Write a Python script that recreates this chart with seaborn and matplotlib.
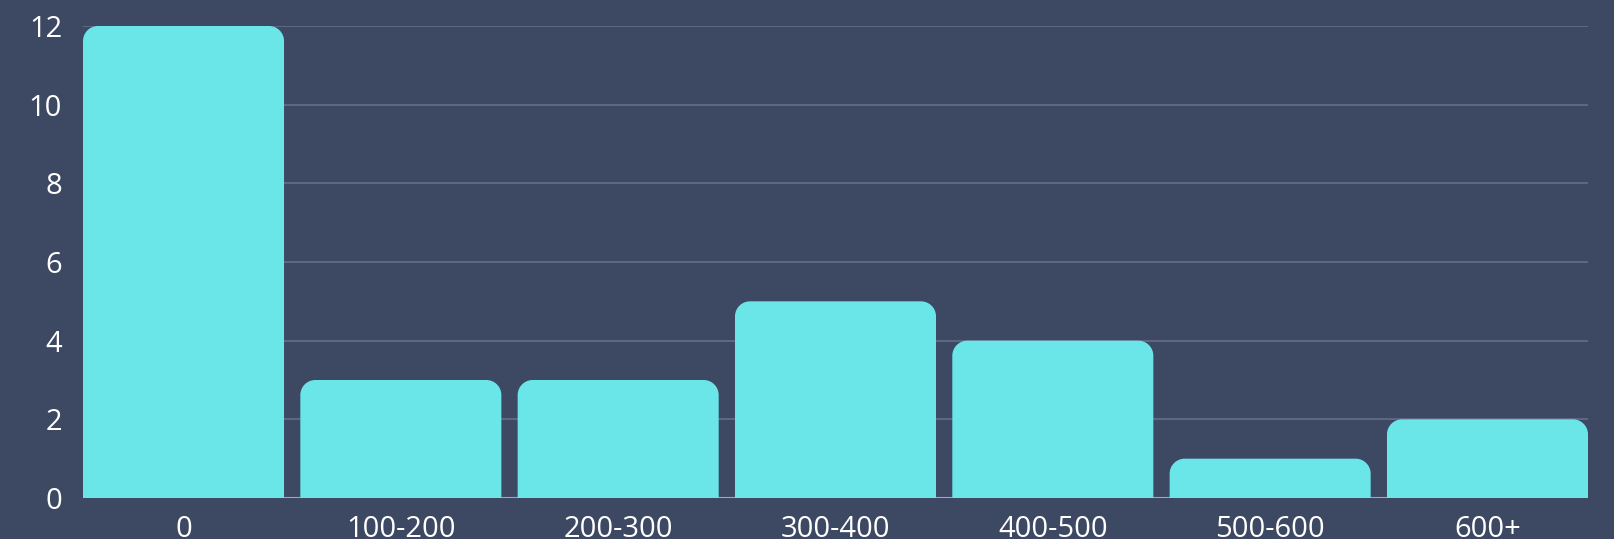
import matplotlib
matplotlib.use("Agg")
import matplotlib.pyplot as plt
import seaborn as sns
import pandas as pd
from matplotlib.path import Path
from matplotlib.patches import PathPatch

categories = ["0", "100-200", "200-300", "300-400", "400-500", "500-600", "600+"]
counts = [12, 3, 3, 5, 4, 1, 2]
yticks = [0, 2, 4, 6, 8, 10, 12]

BG = "#3d4863"
BAR = "#6ae6e9"
GRID = "#646e8a"
BASE = "#a3a8b6"
TEXT = "#ffffff"
BAR_WIDTH = 0.925

sns.set_theme(style="white")
plt.rcParams["font.family"] = ["Open Sans", "DejaVu Sans"]

df = pd.DataFrame({"range": categories, "count": counts})

fig = plt.figure(figsize=(16.14, 5.39), dpi=100, facecolor=BG)
ax = fig.add_axes([83 / 1614, 41 / 539, 1505 / 1614, 472 / 539])
ax.set_facecolor(BG)

sns.barplot(data=df, x="range", y="count", color=BAR, saturation=1,
            width=BAR_WIDTH, ax=ax, zorder=3)

ax.set_ylim(0, 12)
ax.set_xlim(-BAR_WIDTH / 2, len(categories) - 1 + BAR_WIDTH / 2)
ax.set_yticks(yticks)
ax.set_yticklabels([str(t) for t in yticks])
for t in yticks[1:]:
    ax.axhline(t, color=GRID, lw=1.2, zorder=1)
ax.axhline(0, color=BASE, lw=1.5, zorder=2)

for s in ax.spines.values():
    s.set_visible(False)
ax.tick_params(axis="both", length=0, colors=TEXT, labelsize=21)
ax.tick_params(axis="y", pad=15)
ax.tick_params(axis="x", pad=12)
ax.set_xlabel("")
ax.set_ylabel("")

# Replace the square bars with versions whose top corners are rounded
fig.canvas.draw()
radius_px = 15
inv = ax.transData.inverted()
x0d, y0d = inv.transform((0, 0))
x1d, y1d = inv.transform((radius_px, radius_px))
rx, ry = x1d - x0d, y1d - y0d
for bar in list(ax.patches):
    x, y = bar.get_x(), bar.get_y()
    w, h = bar.get_width(), bar.get_height()
    r_y = min(ry, h)
    k = 0.5523
    verts = [
        (x, y),
        (x, y + h - r_y),
        (x, y + h - r_y + k * r_y), (x + rx - k * rx, y + h), (x + rx, y + h),
        (x + w - rx, y + h),
        (x + w - rx + k * rx, y + h), (x + w, y + h - r_y + k * r_y), (x + w, y + h - r_y),
        (x + w, y),
        (x, y),
    ]
    codes = [Path.MOVETO, Path.LINETO,
             Path.CURVE4, Path.CURVE4, Path.CURVE4,
             Path.LINETO,
             Path.CURVE4, Path.CURVE4, Path.CURVE4,
             Path.LINETO, Path.CLOSEPOLY]
    ax.add_patch(PathPatch(Path(verts, codes), facecolor=BAR, edgecolor="none", zorder=3))
    bar.set_visible(False)

fig.savefig("out.png", dpi=100, facecolor=BG)
